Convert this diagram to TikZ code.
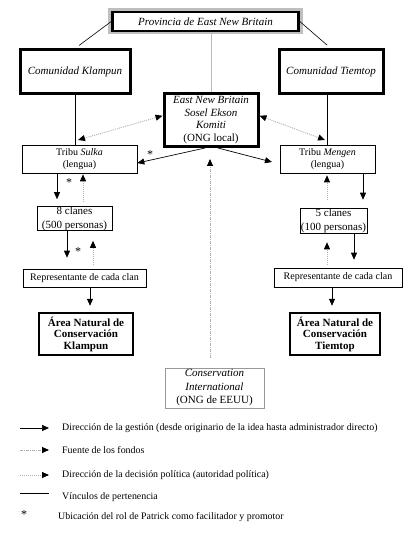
\documentclass[tikz,border=0pt]{standalone}
\usepackage{fontspec}
\setmainfont{Liberation Serif}
\usetikzlibrary{arrows.meta}
\begin{document}
\begin{tikzpicture}[x=1pt,y=-1pt,
  tip/.tip={Triangle[length=7pt,width=6pt,color=black]},
  box/.style={draw,line width=0.6pt,fill=white,inner sep=0pt,align=center,font=\fontsize{10}{12}\selectfont},
  bigbox/.style={box,line width=3pt,font=\fontsize{11}{12.8}\selectfont},
  areabox/.style={box,line width=2.5pt,font=\bfseries\fontsize{11}{11.5}\selectfont},
  clanbox/.style={box,font=\fontsize{11}{14}\selectfont},
  mgmt/.style={line width=0.7pt,-tip},
  polit/.style={gray!60,line width=0.9pt,dash pattern=on 1pt off 1pt,-tip},
  politboth/.style={polit,tip-tip},
  fund/.style={gray!60,line width=0.9pt,dash pattern=on 3pt off 1pt on 1pt off 1pt,-tip},
  belong/.style={line width=0.6pt},
  legend/.style={anchor=west,inner sep=0pt,font=\fontsize{9.9}{12}\selectfont},
  star/.style={inner sep=0pt,font=\fontsize{12}{12}\selectfont}
]
\useasboundingbox (0,0) rectangle (413,534);
% top box
\fill[gray!50] (108,8) rectangle (303,34);
\node[box,line width=2.6pt,minimum width=186pt,minimum height=19pt,font=\itshape\fontsize{11}{13}\selectfont] (prov) at (205.5,21.5) {Provincia de East New Britain};
\node[bigbox,minimum width=110pt,minimum height=44pt] (klam) at (75,72) {\itshape Comunidad Klampun};
\node[bigbox,minimum width=104pt,minimum height=44pt] (tiem) at (331,72) {\itshape Comunidad Tiemtop};
\node[bigbox,minimum width=94pt,minimum height=53pt] (enb) at (211,120) {\itshape East New Britain\\ \itshape Sosel Ekson\\ \itshape Komiti\\ (ONG local)};
\node[box,minimum width=115pt,minimum height=28pt] (sulka) at (79.5,159) {Tribu \textit{Sulka}\\ (lengua)};
\node[box,minimum width=95pt,minimum height=28pt] (mengen) at (327.5,159) {Tribu \textit{Mengen}\\ (lengua)};
\node[clanbox,minimum width=75pt,minimum height=23pt] (cl8) at (74.5,218.5) {8 clanes\\ (500 personas)};
\node[clanbox,minimum width=67pt,minimum height=25pt] (cl5) at (333.5,220.5) {5 clanes\\ (100 personas)};
\node[box,minimum width=123pt,minimum height=18pt] (repL) at (84.5,278) {Representante de cada clan};
\node[box,minimum width=128pt,minimum height=19pt] (repR) at (338,277.5) {Representante de cada clan};
\node[areabox,minimum width=94pt,minimum height=42pt] (areaL) at (86,334) {Área Natural de\\ Conservación\\ Klampun};
\node[areabox,minimum width=90pt,minimum height=42pt] (areaR) at (335,334) {Área Natural de\\ Conservación\\ Tiemtop};
\node[box,draw=gray!80,line width=0.9pt,minimum width=99pt,minimum height=40pt,font=\fontsize{11}{13.5}\selectfont] (ci) at (214.5,388) {\itshape Conservation\\ \itshape International\\ (ONG de EEUU)};

% belonging lines
\draw[belong,shorten >=5pt] (prov.west) -- (klam.north);
\draw[belong,shorten >=5pt] (prov.east) -- (tiem.north);
\draw[gray!55,line width=1pt] (enb.north |- prov.south) -- (enb.north);
\draw[belong] (klam.south) -- (klam.south |- sulka.north);
\draw[belong] (mengen.north |- tiem.south) -- (mengen.north);

% political double arrows
\coordinate (dl) at (78,140);
\coordinate (dr) at (325,140);
\draw[politboth] (dl) -- (enb.175);
\draw[politboth] (enb.5) -- (dr);

% management from ENB
\draw[mgmt] ([xshift=-6pt]enb.south) -- (sulka.-4);
\draw[mgmt,shorten >=8pt] ([xshift=7pt]enb.south) -- (mengen.-174);
\node[star] (s1) at (150,155) {*};

% left column
\draw[mgmt,shorten >=7pt] ([xshift=-22.5pt]sulka.south) -- ([xshift=-22.5pt]sulka.south |- cl8.north);
\draw[polit,shorten <=4pt,shorten >=1pt] ([xshift=8.5pt]cl8.north) -- ([xshift=8.5pt]cl8.north |- sulka.south);
\node[star] (s2) at (69,183) {*};
\draw[mgmt,shorten >=11pt] ([xshift=-7.5pt]cl8.south) -- ([xshift=-7.5pt]cl8.south |- repL.north);
\draw[polit,shorten <=4pt,shorten >=10pt] ([xshift=18.5pt]cl8.south |- repL.north) -- ([xshift=18.5pt]cl8.south);
\node[star] (s3) at (78,252) {*};
\draw[mgmt,shorten >=6pt] ([xshift=5.5pt]repL.south) -- ([xshift=5.5pt]repL.south |- areaL.north);

% right column
\draw[polit,shorten <=8pt,shorten >=2pt] ([xshift=-0.5pt]mengen.south |- cl5.north) -- ([xshift=-0.5pt]mengen.south);
\draw[mgmt,shorten >=8pt] ([xshift=35.5pt]mengen.south) -- ([xshift=35.5pt]mengen.south |- cl5.north);
\draw[polit,shorten <=3pt,shorten >=9pt] ([xshift=-0.5pt]mengen.south |- repR.north) -- ([xshift=-0.5pt]mengen.south |- cl5.south);
\draw[mgmt,shorten >=8pt] ([xshift=20.5pt]cl5.south) -- ([xshift=20.5pt]cl5.south |- repR.north);
\draw[mgmt,shorten >=6pt] ([xshift=-6pt]repR.south) -- ([xshift=-6pt]repR.south |- areaR.north);

% funds
\draw[fund,shorten <=10pt,shorten >=11pt] ([xshift=-4.5pt]ci.north) -- ([xshift=-4.5pt]ci.north |- enb.south);

% legend
\coordinate (l1a) at (20,428); \coordinate (l1b) at (49,428);
\coordinate (l2a) at (20,450); \coordinate (l2b) at (49,450);
\coordinate (l3a) at (20,475); \coordinate (l3b) at (49,475);
\coordinate (l4a) at (20,493); \coordinate (l4b) at (49,493);
\draw[mgmt] (l1a) -- (l1b);
\draw[fund] (l2a) -- (l2b);
\draw[polit] (l3a) -- (l3b);
\draw[belong] (l4a) -- (l4b);
\node[legend] (t1) at (62,428) {Dirección de la gestión (desde originario de la idea hasta administrador directo)};
\node[legend] (t2) at (62,450) {Fuente de los fondos};
\node[legend] (t3) at (62,475) {Dirección de la decisión política (autoridad política)};
\node[legend] (t4) at (62,497) {Vínculos de pertenencia};
\node[star] (s4) at (24,515) {*};
\node[legend] (t5) at (58,517) {Ubicación del rol de Patrick como facilitador y promotor};
\end{tikzpicture}
\end{document}
